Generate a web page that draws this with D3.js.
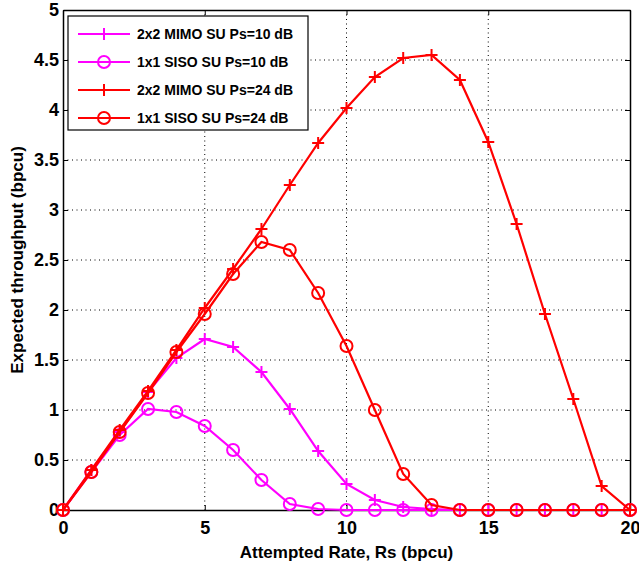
<!DOCTYPE html>
<html>
<head>
<meta charset="utf-8">
<script src="https://cdn.jsdelivr.net/npm/d3@7"></script>
<style>
  body { margin: 0; background: #fff; }
  svg { font-family: "Liberation Sans", Arial, sans-serif; font-weight: bold; }
</style>
</head>
<body>
<div id="chart"></div>
<script>
const rates = d3.range(0, 21);

const mimo10 = [0, 0.40, 0.78, 1.18, 1.52, 1.71, 1.63, 1.38, 1.01, 0.59, 0.26, 0.10, 0.03, 0.01, 0, 0, 0, 0, 0, 0, 0];
const siso10 = [0, 0.38, 0.75, 1.01, 0.98, 0.84, 0.60, 0.30, 0.06, 0.01, 0, 0, 0, 0, 0, 0, 0, 0, 0, 0, 0];
const mimo24 = [0, 0.40, 0.80, 1.19, 1.60, 2.02, 2.41, 2.81, 3.25, 3.67, 4.02, 4.33, 4.52, 4.55, 4.30, 3.68, 2.86, 1.96, 1.11, 0.24, 0];
const siso24 = [0, 0.38, 0.78, 1.17, 1.58, 1.96, 2.36, 2.68, 2.60, 2.17, 1.64, 1.00, 0.36, 0.05, 0, 0, 0, 0, 0, 0, 0];

const seriesNames = ["2x2 MIMO SU Ps=10 dB", "1x1 SISO SU Ps=10 dB", "2x2 MIMO SU Ps=24 dB", "1x1 SISO SU Ps=24 dB"];
const xTicks = [0, 5, 10, 15, 20];
const yTicks = [0, 0.5, 1, 1.5, 2, 2.5, 3, 3.5, 4, 4.5, 5];

const series = [
  { name: seriesNames[0], values: mimo10, color: "#ff00ff", marker: "plus" },
  { name: seriesNames[1], values: siso10, color: "#ff00ff", marker: "circle" },
  { name: seriesNames[2], values: mimo24, color: "#ff0000", marker: "plus" },
  { name: seriesNames[3], values: siso24, color: "#ff0000", marker: "circle" }
];

const width = 639, height = 567;
const margin = { left: 63, right: 9, top: 10, bottom: 57 };
const iw = width - margin.left - margin.right;
const ih = height - margin.top - margin.bottom;

const svg = d3.select("#chart").append("svg")
  .attr("width", width)
  .attr("height", height);

const g = svg.append("g").attr("transform", `translate(${margin.left},${margin.top})`);

const x = d3.scaleLinear().domain([0, 20]).range([0, iw]);
const y = d3.scaleLinear().domain([0, 5]).range([ih, 0]);

// dotted grid
g.append("g").selectAll("line")
  .data(xTicks.slice(1, -1))
  .enter().append("line")
  .attr("x1", d => x(d)).attr("x2", d => x(d))
  .attr("y1", 0).attr("y2", ih)
  .attr("stroke", "#000").attr("stroke-width", 1)
  .attr("stroke-dasharray", "1,3.5");

g.append("g").selectAll("line")
  .data(yTicks.slice(1, -1))
  .enter().append("line")
  .attr("x1", 0).attr("x2", iw)
  .attr("y1", d => y(d)).attr("y2", d => y(d))
  .attr("stroke", "#000").attr("stroke-width", 1)
  .attr("stroke-dasharray", "1,3.5");

// axes with inward ticks
const xAxis = g.append("g")
  .attr("transform", `translate(0,${ih})`)
  .call(d3.axisBottom(x).tickValues(xTicks).tickSizeInner(-5).tickSizeOuter(0).tickPadding(11));
const yAxis = g.append("g")
  .call(d3.axisLeft(y).tickValues(yTicks).tickFormat(d3.format("")).tickSizeInner(-5).tickSizeOuter(0).tickPadding(4));
g.append("g")
  .call(d3.axisTop(x).tickValues(xTicks).tickSizeInner(-5).tickSizeOuter(0).tickFormat(""));
g.append("g")
  .attr("transform", `translate(${iw},0)`)
  .call(d3.axisRight(y).tickValues(yTicks).tickSizeInner(-5).tickSizeOuter(0).tickFormat(""));

g.selectAll(".domain").attr("stroke", "#000").attr("stroke-width", 1.5);
g.selectAll(".tick line").attr("stroke", "#000");
[xAxis, yAxis].forEach(a => a.selectAll("text")
  .attr("font-size", 18)
  .attr("font-weight", "bold")
  .attr("font-family", "Liberation Sans, Arial, sans-serif")
  .attr("fill", "#000"));

// axis labels
svg.append("text")
  .attr("x", margin.left + iw / 2)
  .attr("y", 558)
  .attr("text-anchor", "middle")
  .attr("font-size", 17)
  .text("Attempted Rate, Rs (bpcu)");

svg.append("text")
  .attr("transform", `translate(23,${margin.top + ih / 2}) rotate(-90)`)
  .attr("text-anchor", "middle")
  .attr("font-size", 17)
  .text("Expected throughput (bpcu)");

// series
const line = d3.line().x((d, i) => x(rates[i])).y(d => y(d));

function drawMarker(sel, type, color) {
  if (type === "circle") {
    sel.append("circle").attr("r", 6)
      .attr("fill", "none").attr("stroke", color).attr("stroke-width", 2);
  } else {
    sel.append("path").attr("d", "M-6,0H6M0,-6V6")
      .attr("fill", "none").attr("stroke", color).attr("stroke-width", 2);
  }
}

const plot = g.append("g");
series.forEach(s => {
  plot.append("path")
    .datum(s.values)
    .attr("d", line)
    .attr("fill", "none")
    .attr("stroke", s.color)
    .attr("stroke-width", 2.2);
  plot.append("g").selectAll("g")
    .data(s.values)
    .enter().append("g")
    .attr("transform", (d, i) => `translate(${x(rates[i])},${y(d)})`)
    .each(function() { drawMarker(d3.select(this), s.marker, s.color); });
});

// legend
const legend = svg.append("g").attr("transform", "translate(68,16)");
legend.append("rect")
  .attr("width", 240).attr("height", 114)
  .attr("fill", "#fff").attr("stroke", "#000").attr("stroke-width", 1.2);

series.forEach((s, i) => {
  const row = legend.append("g").attr("transform", `translate(0,${18 + i * 28})`);
  row.append("line")
    .attr("x1", 10).attr("x2", 62)
    .attr("stroke", s.color).attr("stroke-width", 2.2);
  drawMarker(row.append("g").attr("transform", "translate(36,0)"), s.marker, s.color);
  row.append("text")
    .attr("x", 69).attr("y", 5)
    .attr("font-size", 14)
    .text(s.name);
});
</script>
</body>
</html>
